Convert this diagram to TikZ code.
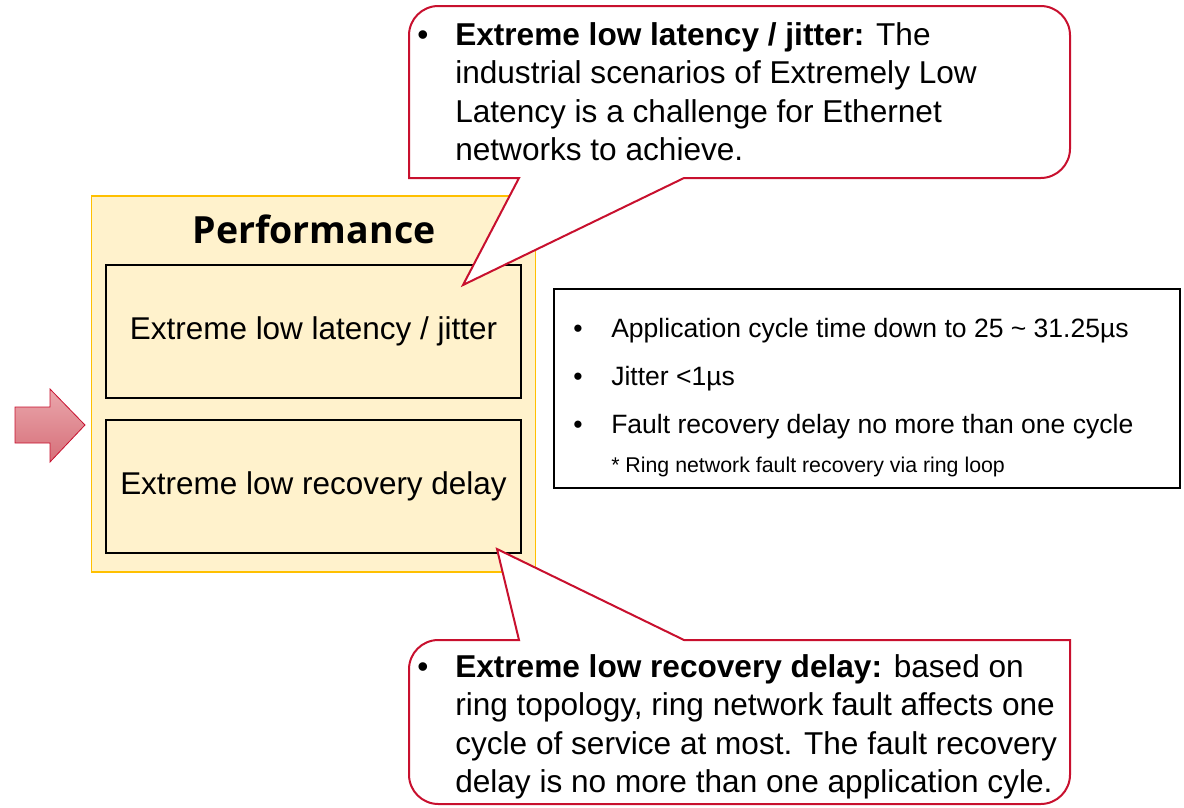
\documentclass[tikz,border=0pt]{standalone}
\usepackage{fontspec}
\setmainfont{Liberation Sans}
\newfontfamily\titlefont{Open Sans}
\usepackage{tikz}

\definecolor{perffill}{HTML}{FFF2CC}
\definecolor{perfline}{HTML}{FFC000}
\definecolor{calloutred}{HTML}{C8102E}
\definecolor{arrowtop}{HTML}{EAA7AC}
\definecolor{arrowbot}{HTML}{D66F79}

\tikzset{
  perfbox/.style={draw=perfline, fill=perffill, line width=0.8pt},
  itembox/.style={draw=black, line width=1.9pt, fill=perffill, minimum width=311pt,
    minimum height=99.5pt, font=\fontsize{23.6}{28}\selectfont},
  specbox/.style={draw=black, line width=1.5pt, fill=white},
  callout/.style={draw=calloutred, line width=1.5pt, fill=white},
  notetext/.style={align=left, inner sep=0pt, font=\fontsize{23.7}{28.9}\selectfont},
  spectext/.style={inner sep=0pt, font=\fontsize{19.9}{24}\selectfont},
  bigarrow/.style={draw=calloutred, line width=0.6pt, top color=arrowtop, bottom color=arrowbot},
}

\begin{document}
\begin{tikzpicture}[x=0.75pt,y=-0.75pt]
    \useasboundingbox (0,0) rectangle (1184,807);

    % performance block
    \node[perfbox, minimum width=333pt, minimum height=282pt] (perf) at (313.5,384) {};
    \node[font=\titlefont\bfseries\fontsize{28.1}{32}\selectfont, inner sep=0pt] (title) at (314,229) {Performance};
    \node[itembox] (lat) at (313.5,331.5) {Extreme low latency / jitter};
    \node[itembox] (rec) at (313.5,486.5) {Extreme low recovery delay};

    \draw[bigarrow] (15,407) -- (50,407) -- (50,389) -- (85,425) -- (50,462) -- (50,443) -- (15,443) -- cycle;

    % pointer tips
    \coordinate (lattip) at (463,285);
    \coordinate (rectip) at (497,549);

    % top callout
    \draw[callout] (740,6) [rounded corners=22pt] -- (1070,6) -- (1070,178) [sharp corners] -- (684,178) -- (lattip) -- (519,178) -- (409,178) [rounded corners=22pt] -- (409,6) -- cycle;
    \node[notetext, anchor=base] (topdot) at (423,45) {\textbullet};
    \node[notetext, anchor=north west] (topnote) at (455,22) {\textbf{Extreme low latency / jitter:} The\\
        industrial scenarios of Extremely Low\\
        Latency is a challenge for Ethernet\\
        networks to achieve.};

    % bottom callout
    \draw[callout] (740,804) [rounded corners=22pt] -- (409,804) -- (409,640) [sharp corners] -- (519,640) -- (rectip) -- (684,640) -- (1070,640) [rounded corners=22pt] -- (1070,804) -- cycle;
    \node[notetext, anchor=base] (botdot) at (423,677) {\textbullet};
    \node[notetext, anchor=north west] (botnote) at (455,654) {\textbf{Extreme low recovery delay:} based on\\
        ring topology, ring network fault affects one\\
        cycle of service at most. The fault recovery\\
        delay is no more than one application cyle.};

    % spec box
    \node[specbox, minimum width=469.5pt, minimum height=149.25pt] (spec) at (867,388.5) {};
    \foreach \y/\txt [count=\i] in {337/Application cycle time down to 25 \textasciitilde{} 31.25µs,
                                   385/Jitter <1µs,
                                   433/Fault recovery delay no more than one cycle} {
        \node[spectext, anchor=base] (specdot\i) at (578,\y) {\textbullet};
        \node[spectext, anchor=base west] (spec\i) at (611,\y) {\txt};
    }
    \node[inner sep=0pt, anchor=base west, font=\fontsize{16}{19}\selectfont] (specnote) at (611,472) {* Ring network fault recovery via ring loop};
\end{tikzpicture}
\end{document}
